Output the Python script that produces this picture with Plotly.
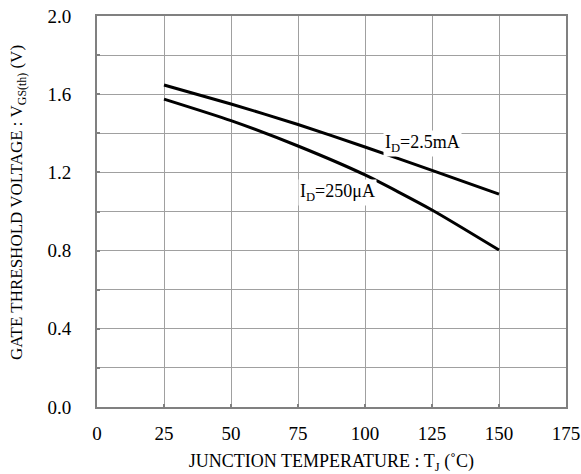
import plotly.graph_objects as go

# Junction temperature (°C) and gate threshold voltage (V)
temp = [25, 50, 75, 100, 125, 150]
vth_2p5mA = [1.647, 1.55, 1.445, 1.33, 1.21, 1.089]
vth_250uA = [1.575, 1.465, 1.335, 1.187, 1.008, 0.803]

x_ticks = [0, 25, 50, 75, 100, 125, 150, 175]
y_grid = [round(i * 0.2, 1) for i in range(11)]
y_labels = [f"{v:.1f}" if i % 2 == 0 else "" for i, v in enumerate(y_grid)]

FONT = "Liberation Serif"

fig = go.Figure()
fig.add_trace(go.Scatter(x=temp, y=vth_2p5mA, mode="lines",
                         line=dict(color="black", width=3, shape="spline", smoothing=0.6), showlegend=False))
fig.add_trace(go.Scatter(x=temp, y=vth_250uA, mode="lines",
                         line=dict(color="black", width=3, shape="spline", smoothing=0.6), showlegend=False))

fig.add_annotation(x=121.3, y=1.35, text="I<sub>D</sub>=2.5mA", showarrow=False, bgcolor="white",
                   font=dict(family=FONT, size=18, color="black"), xanchor="center", yanchor="middle")
fig.add_annotation(x=89.9, y=1.095, text="I<sub>D</sub>=250μA", showarrow=False, bgcolor="white",
                   font=dict(family=FONT, size=18, color="black"), xanchor="center", yanchor="middle")

# Vertical axis title, placed beside the tick labels
fig.add_annotation(xref="paper", yref="paper", x=-0.168, y=0.522, textangle=-90, showarrow=False,
                   text="GATE THRESHOLD VOLTAGE : V<sub>GS(th)</sub> (V)",
                   font=dict(family=FONT, size=17, color="black"), xanchor="center", yanchor="middle")

axis_common = dict(showgrid=True, gridcolor="#a0a0a0", gridwidth=1, showline=True, linecolor="#808080",
                   linewidth=2, mirror=True, ticks="inside", ticklen=3, tickwidth=2, tickcolor="#808080",
                   zeroline=False, automargin=False, tickfont=dict(family=FONT, size=19, color="black"))

fig.update_xaxes(range=[0, 175], tickvals=x_ticks, ticktext=[str(v) for v in x_ticks],
                 ticklabelstandoff=8,
                 title=dict(text="JUNCTION TEMPERATURE : T<sub>J</sub> (˚C)",
                            font=dict(family=FONT, size=18, color="black"), standoff=13),
                 **axis_common)
fig.update_yaxes(range=[0, 2.0], tickvals=y_grid, ticktext=y_labels,
                 ticklabelstandoff=20, **axis_common)

fig.update_layout(width=581, height=474, margin=dict(l=97, r=15, t=16, b=67),
                  plot_bgcolor="white", paper_bgcolor="white")

fig.write_html("out.html")
